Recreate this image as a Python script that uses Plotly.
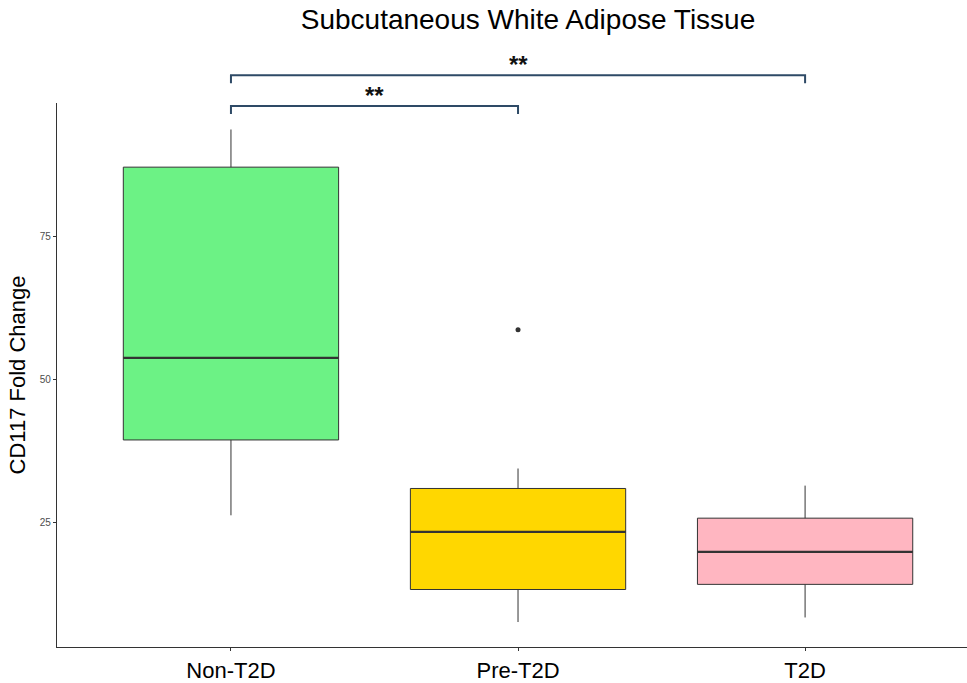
import plotly.graph_objects as go

categories = ["Non-T2D", "Pre-T2D", "T2D"]
q1 = [39.4, 13.2, 14.1]
median = [53.8, 23.3, 19.8]
q3 = [87.2, 30.9, 25.7]
lower_whisker = [26.2, 7.5, 8.3]
upper_whisker = [93.8, 34.4, 31.4]
fill_colors = ["#6CF285", "#FFD700", "#FFB6C1"]
outlier_group = [1]
outlier_value = [58.7]
comparisons = [(0, 1, "**"), (0, 2, "**")]

W, H = 967, 683
L, R, T, B = 57, 0, 103, 31
xs = list(range(len(categories)))
half = 0.375

fig = go.Figure()
for i, c in enumerate(categories):
    fig.add_trace(go.Box(
        x=[xs[i]], q1=[q1[i]], median=[median[i]], q3=[q3[i]],
        lowerfence=[lower_whisker[i]], upperfence=[upper_whisker[i]],
        fillcolor=fill_colors[i], line=dict(color="#333333", width=1),
        whiskerwidth=0, width=2 * half, boxpoints=False, showlegend=False,
        hoverinfo="skip"))
    fig.add_trace(go.Scatter(
        x=[xs[i] - half, xs[i] + half], y=[median[i], median[i]], mode="lines",
        line=dict(color="#333333", width=2.2), showlegend=False, hoverinfo="skip"))

fig.add_trace(go.Scatter(
    x=outlier_group, y=outlier_value, mode="markers",
    marker=dict(color="#333333", size=5), showlegend=False, hoverinfo="skip"))

plot_h = H - T - B
def py_to_paper(py):
    return (H - B - py) / plot_h

bracket_color = "#2E4A66"
levels = [(106, 114, 95), (75, 83, 64)]
for (a, b, lab), (ytop, ytick, ytxt) in zip(comparisons, levels):
    yt = py_to_paper(ytop)
    yb = py_to_paper(ytick)
    fig.add_shape(type="path", xref="x", yref="paper",
                  path=f"M {a},{yb} L {a},{yt} L {b},{yt} L {b},{yb}",
                  line=dict(color=bracket_color, width=2))
    fig.add_annotation(x=(a + b) / 2, y=py_to_paper(ytxt), xref="x", yref="paper",
                       text=f"<b>{lab}</b>", showarrow=False,
                       font=dict(size=24, color="#111111", family="Liberation Sans, Arial"),
                       yanchor="middle")

fig.update_layout(
    width=W, height=H,
    margin=dict(l=L, r=R, t=T, b=B),
    plot_bgcolor="white", paper_bgcolor="white",
    font=dict(family="Liberation Sans, Arial", color="black"),
    title=dict(text="Subcutaneous White Adipose Tissue", x=528 / W, xanchor="center",
               y=1 - 19 / H, yanchor="middle", font=dict(size=28, color="black")),
    xaxis=dict(range=[-0.606, 2.564], tickvals=xs, ticktext=categories,
               showline=True, linecolor="#333333", linewidth=1.2,
               ticks="outside", ticklen=3, tickcolor="#333333", showgrid=False,
               zeroline=False, tickfont=dict(size=22, color="black")),
    yaxis=dict(range=[3.125, 98.44], tickvals=[25, 50, 75],
               showline=True, linecolor="#333333", linewidth=1.2,
               ticks="outside", ticklen=3, tickcolor="#333333", showgrid=False,
               zeroline=False, tickfont=dict(size=10, color="#4d4d4d"),
               title=dict(text="CD117 Fold Change", font=dict(size=22, color="black"), standoff=8)),
)

fig.write_html("out.html", config={"displayModeBar": False},
               post_script="document.body.style.margin='0';document.body.style.overflow='hidden';")
